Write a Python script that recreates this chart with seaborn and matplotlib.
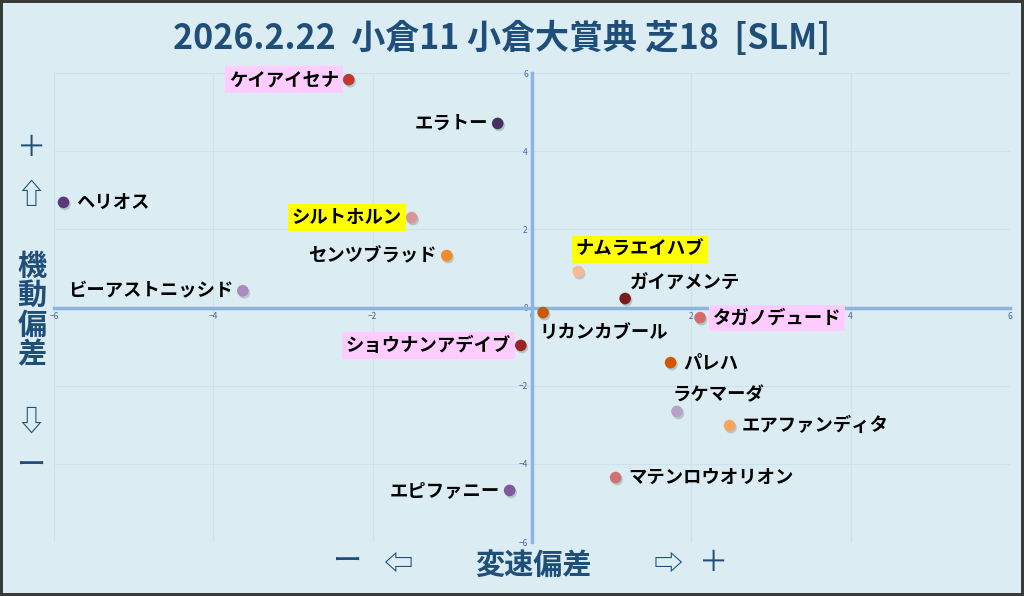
import pandas as pd
import numpy as np
import seaborn as sns
import matplotlib.pyplot as plt
import matplotlib.patheffects as pe

sns.set_theme(style="whitegrid")
plt.rcParams['font.family'] = ['Noto Sans CJK JP', 'DejaVu Sans']

# データ
names = ["ケイアイセナ", "エラトー", "ヘリオス", "シルトホルン", "センツブラッド",
         "ビーアストニッシド", "ナムラエイハブ", "ガイアメンテ", "リカンカブール", "タガノデュード",
         "ショウナンアデイブ", "パレハ", "ラケマーダ", "エアファンディタ", "マテンロウオリオン", "エピファニー"]
hensoku = [-2.30, -0.43, -5.88, -1.51, -1.07, -3.63, 0.58, 1.17, 0.14, 2.11,
           -0.14, 1.74, 1.82, 2.48, 1.05, -0.28]
kidou = [5.83, 4.71, 2.69, 2.30, 1.33, 0.43, 0.92, 0.23, -0.13, -0.26,
         -0.97, -1.41, -2.66, -3.02, -4.35, -4.68]
colors = ["#c0392f", "#48305f", "#5a3a78", "#d99694", "#f08a2c", "#a98bc0", "#f5bb92", "#7a1c1c",
          "#c85a05", "#d46a6a", "#9a2424", "#d35400", "#b9a2c9", "#f7a75c", "#d07272", "#80589c"]
pink = ["ケイアイセナ", "タガノデュード", "ショウナンアデイブ"]
yellow = ["シルトホルン", "ナムラエイハブ"]

# ラベルの置き方 (dx, dy [pt], ha, va)
label_pos = {
    "ケイアイセナ": (-7, 0, "right", "center"),
    "エラトー": (-7, 0, "right", "center"),
    "ヘリオス": (9, 0, "left", "center"),
    "シルトホルン": (-7, 0, "right", "center"),
    "センツブラッド": (-7, 0, "right", "center"),
    "ビーアストニッシド": (-7, 0, "right", "center"),
    "ナムラエイハブ": (-2, 9, "left", "bottom"),
    "ガイアメンテ": (3, 12, "left", "center"),
    "リカンカブール": (-3, -14, "left", "center"),
    "タガノデュード": (9, 0, "left", "center"),
    "ショウナンアデイブ": (-7, 0, "right", "center"),
    "パレハ": (9, 0, "left", "center"),
    "ラケマーダ": (-3, 12, "left", "center"),
    "エアファンディタ": (9, 0, "left", "center"),
    "マテンロウオリオン": (9, 0, "left", "center"),
    "エピファニー": (-7, 0, "right", "center"),
}

df = pd.DataFrame({"name": names, "x": hensoku, "y": kidou})
bg = "#dbedf3"
navy = "#1f4e79"

fig = plt.figure(figsize=(10.24, 5.96), dpi=100, facecolor=bg, edgecolor="#3a3a3a", linewidth=3)
ax = fig.add_axes([0.0527, 0.0906, 0.9336, 0.7869])
ax.set_facecolor(bg)

sc = sns.scatterplot(data=df, x="x", y="y", hue="name", palette=dict(zip(names, colors)),
                     s=70, edgecolor="none", legend=False, ax=ax, zorder=5)
sc.collections[0].set_path_effects([pe.SimplePatchShadow(offset=(1, -1.5), shadow_rgbFace="#7a8a90", alpha=0.4),
                                    pe.Normal()])

for r in df.itertuples():
    dx, dy, ha, va = label_pos[r.name]
    box = None
    if r.name in pink:
        box = dict(boxstyle="square,pad=0.2", fc="#ffccff", ec="none")
    elif r.name in yellow:
        box = dict(boxstyle="square,pad=0.2", fc="#ffff00", ec="none")
    ax.annotate(r.name, (r.x, r.y), xytext=(dx, dy), textcoords="offset points",
                ha=ha, va=va, fontsize=13.2, fontweight="bold", color="#000000",
                bbox=box, zorder=6)

ax.set_xlim(-6, 6)
ax.set_ylim(-6, 6)
ax.set_xticks(np.arange(-6, 7, 2))
ax.set_yticks(np.arange(-6, 7, 2))
ax.grid(True, color="#cde2ee", linewidth=0.8)
ax.spines["left"].set_position("zero")
ax.spines["bottom"].set_position("zero")
for s in ["left", "bottom"]:
    ax.spines[s].set_color("#8db3e2")
    ax.spines[s].set_linewidth(2.5)
    ax.spines[s].set_zorder(3)
for s in ["top", "right"]:
    ax.spines[s].set_visible(False)
ax.tick_params(axis="both", length=0, labelsize=6, labelcolor="#4a6590", pad=3)
ax.set_xlabel("")
ax.set_ylabel("")

fig.text(0.49, 0.936, "2026.2.22  小倉11 小倉大賞典 芝18  [SLM]", ha="center", va="center",
         fontsize=24.5, fontweight="bold", color=navy)

sym = dict(color=navy, fontsize=21, fontweight="normal", ha="center", va="center")
word = dict(color=navy, fontsize=21, fontweight="bold", ha="center", va="center")
fig.text(0.031, 1 - 148 / 596, "＋", **sym)
fig.text(0.030, 1 - 196 / 596, "⇧", **sym)
fig.text(0.031, 1 - 310 / 596, "機\n動\n偏\n差", linespacing=0.98, **word)
fig.text(0.030, 1 - 423 / 596, "⇩", **sym)
fig.text(0.031, 1 - 467 / 596, "ー", **sym)

fig.text(348 / 1024, 1 - 563 / 596, "ー", **sym)
fig.text(398 / 1024, 1 - 565 / 596, "⇦", **sym)
fig.text(533 / 1024, 1 - 565 / 596, "変速偏差", **word)
fig.text(668 / 1024, 1 - 565 / 596, "⇨", **sym)
fig.text(714 / 1024, 1 - 563 / 596, "＋", **sym)

fig.savefig("out.png", dpi=100, facecolor=bg, edgecolor="#3a3a3a")
